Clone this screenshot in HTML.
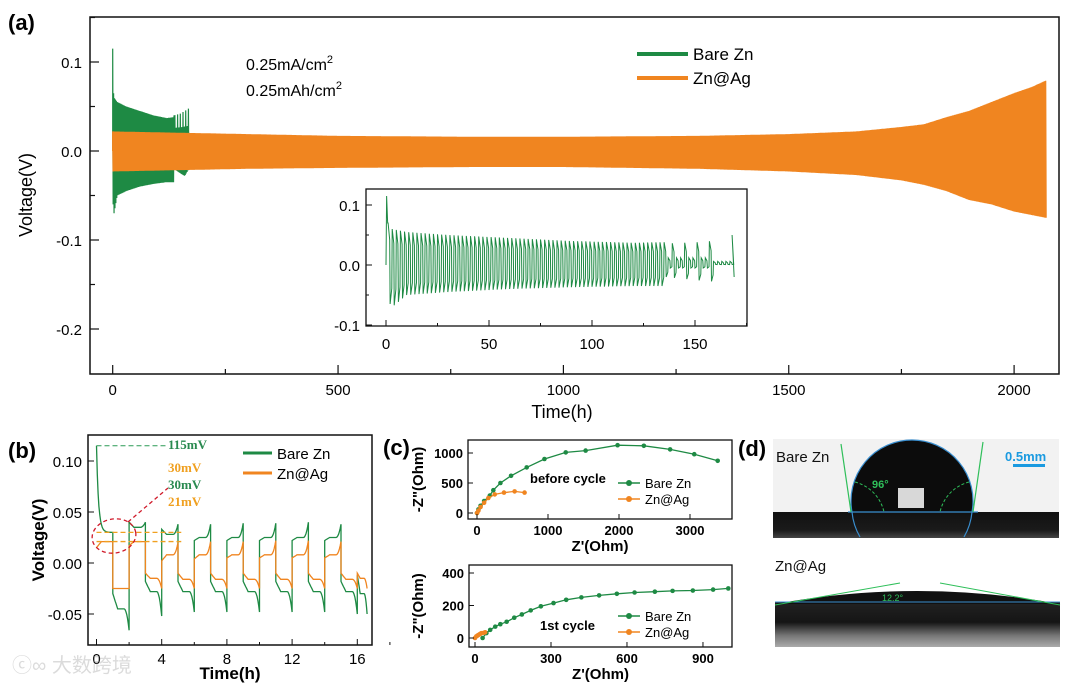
<!DOCTYPE html>
<html><head><meta charset="utf-8"><style>
body{margin:0;background:#fff;width:1080px;height:683px;overflow:hidden}
svg{display:block;font-family:"Liberation Sans",Arial,sans-serif}
</style></head><body>
<svg id="fig" width="1080" height="683" viewBox="0 0 1080 683">
<defs>
<linearGradient id="gBand" x1="0" y1="0" x2="0" y2="1"><stop offset="0" stop-color="#111"/><stop offset="0.7" stop-color="#1a1a1a"/><stop offset="1" stop-color="#444"/></linearGradient>
<linearGradient id="gBand2" x1="0" y1="0" x2="0" y2="1"><stop offset="0" stop-color="#222"/><stop offset="0.45" stop-color="#151515"/><stop offset="0.75" stop-color="#777"/><stop offset="1" stop-color="#aaa"/></linearGradient>
</defs>
<g id="A"></g>
<g id="B"></g>
<g id="C"></g>
<g id="D">
  <text x="738" y="456" font-size="22" font-weight="bold">(d)</text>
  <rect x="773" y="439" width="286" height="99" fill="#f2f2f2"/>
  <rect x="773" y="512" width="286" height="26" fill="url(#gBand)"/>
  <path d="M852,512 A61,61 0 1 1 972,512 Z" fill="#0c0c0c"/>
  <rect x="898" y="488" width="26" height="20" fill="#eee" opacity="0.9"/>
  <path d="M852,512 A61,61 0 1 1 972,512 M852,512 A61,61 0 0 0 860,537 M972,512 A61,61 0 0 1 964,537" fill="none" stroke="#3a8fd0" stroke-width="1.2"/>
  <line x1="848" y1="512" x2="978" y2="512" stroke="#3a8fd0" stroke-width="1.2"/>
  <line x1="841" y1="444" x2="851" y2="512" stroke="#2fbf5a" stroke-width="1.2"/>
  <line x1="983" y1="442" x2="973" y2="512" stroke="#2fbf5a" stroke-width="1.2"/>
  <path d="M855,482 A40,40 0 0 1 884,512 M969,482 A40,40 0 0 0 940,512" fill="none" stroke="#2fbf5a" stroke-dasharray="3,2"/>
  <text x="872" y="488" font-size="11" fill="#2fbf5a" font-weight="bold">96°</text>
  <text x="1005" y="461" font-size="13" fill="#1a9ae0" font-weight="bold">0.5mm</text>
  <rect x="1013" y="464" width="32" height="3" fill="#1a9ae0"/>
  <text x="776" y="462" font-size="15" fill="#111">Bare Zn</text>
  <text x="775" y="571" font-size="15" fill="#111">Zn@Ag</text>
  <rect x="775" y="602" width="285" height="45" fill="url(#gBand2)"/>
  <path d="M775,604 Q917,578 1060,604 Z" fill="#111"/>
  <line x1="775" y1="602" x2="1060" y2="602" stroke="#3a8fd0" stroke-width="1"/>
  <line x1="775" y1="605" x2="900" y2="583" stroke="#2fbf5a" stroke-width="1"/>
  <line x1="940" y1="583" x2="1060" y2="605" stroke="#2fbf5a" stroke-width="1"/>
  <text x="882" y="601" font-size="9" fill="#2fbf5a">12.2°</text>
</g>
<g opacity="0.35"><text x="12" y="672" font-size="20" fill="#999" font-family="'Liberation Sans','Noto Sans CJK SC',sans-serif">ⓒ∞ 大数跨境</text></g>
</svg>
<script>
const NS='http://www.w3.org/2000/svg';
function el(p,t,a){const e=document.createElementNS(NS,t);for(const k in a)e.setAttribute(k,a[k]);p.appendChild(e);return e;}
function txt(p,x,y,s,a){const e=el(p,'text',Object.assign({x:x,y:y},a));e.textContent=s;return e;}
function interp(xs,ys,x){if(x<=xs[0])return ys[0];for(let i=1;i<xs.length;i++){if(x<=xs[i]){const f=(x-xs[i-1])/(xs[i]-xs[i-1]);return ys[i-1]+f*(ys[i]-ys[i-1]);}}return ys[ys.length-1];}

// ===== Panel A data =====
const aXTicks=[0,500,1000,1500,2000];
const aYTicks=[0.1,0.0,-0.1,-0.2];
const aYLabels=['0.1','0.0','-0.1','-0.2'];
const orangeEnvT=[0,100,300,500,800,1000,1300,1500,1650,1750,1800,1850,1900,1950,2000,2040,2070];
const orangeUpper=[0.022,0.021,0.019,0.017,0.016,0.016,0.017,0.019,0.022,0.027,0.030,0.038,0.045,0.055,0.065,0.072,0.079];
const orangeLower=[-0.023,-0.022,-0.02,-0.019,-0.018,-0.018,-0.02,-0.023,-0.027,-0.033,-0.038,-0.045,-0.055,-0.06,-0.068,-0.072,-0.075];
const greenEnvT=[0,1,3,10,30,60,90,120,135,136,150,160,169];
const greenUpper=[0.115,0.07,0.06,0.055,0.05,0.045,0.04,0.037,0.038,0.04,0.042,0.045,0.048];
const greenLower=[-0.005,-0.06,-0.07,-0.05,-0.045,-0.04,-0.037,-0.035,-0.035,-0.02,-0.025,-0.028,-0.02];
const period=2;

(function(){
 const g=document.getElementById('A');
 const L=90,T=17,R=1059,B=374;
 const x=t=>112.7+t*0.4507, y=v=>151-v*890;
 txt(g,8,30,'(a)',{'font-size':22,'font-weight':'bold'});
 let d='M'+x(0)+','+y(0);
 for(let t=0;t<=2070;t+=period){d+='L'+x(t).toFixed(2)+','+y(interp(orangeEnvT,orangeUpper,t)).toFixed(1)+'L'+x(t+period/2).toFixed(2)+','+y(interp(orangeEnvT,orangeLower,t+period/2)).toFixed(1);}
 let dg='M'+x(0)+','+y(0);
 for(let t=0;t<=169;t+=period){const u=t>136?0.02+(interp(greenEnvT,greenUpper,t)-0.02)*((t%6)<2?1:0.3):interp(greenEnvT,greenUpper,t);
  dg+='L'+x(t).toFixed(2)+','+y(u).toFixed(1)+'L'+x(t+1).toFixed(2)+','+y(interp(greenEnvT,greenLower,t+1)).toFixed(1);}
 const gp=el(g,'path',{d:dg,fill:'none',stroke:'#1e8a44','stroke-width':1.2});
 
 
 const op=el(g,'path',{d:d,fill:'none',stroke:'#f08520','stroke-width':1.3});
 
 
 const fr=el(g,'rect',{x:L,y:T,width:R-L,height:B-T,fill:'none',stroke:'#111','stroke-width':1.5});
 
 
 aXTicks.forEach(v=>{el(g,'line',{x1:x(v),y1:B,x2:x(v),y2:B-9,stroke:'#111','stroke-width':1.2});el(g,'line',{x1:x(v+250),y1:B,x2:x(v+250),y2:B-5,stroke:'#111','stroke-width':1.2});
  const t=txt(g,x(v),395,String(v),{'font-size':15,'text-anchor':'middle'});});
 aYTicks.forEach((v,i)=>{el(g,'line',{x1:L,y1:y(v),x2:L+9,y2:y(v),stroke:'#111','stroke-width':1.2});el(g,'line',{x1:L,y1:y(v+0.05),x2:L+5,y2:y(v+0.05),stroke:'#111','stroke-width':1.2});
  const t=txt(g,L-8,y(v)+6,aYLabels[i],{'font-size':15,'text-anchor':'end'});});
 let t=txt(g,562,418,'Time(h)',{'font-size':18,'text-anchor':'middle'});
 t=txt(g,32,195,'Voltage(V)',{'font-size':18,'text-anchor':'middle',transform:'rotate(-90 32 195)'});
 t=el(g,'text',{x:246,y:70,'font-size':16});t.innerHTML='0.25mA/cm<tspan font-size="11" dy="-7">2</tspan>';
 t=el(g,'text',{x:246,y:96,'font-size':16});t.innerHTML='0.25mAh/cm<tspan font-size="11" dy="-7">2</tspan>';
 el(g,'line',{x1:637,y1:54,x2:688,y2:54,stroke:'#1e8a44','stroke-width':4});
 t=txt(g,693,60,'Bare Zn',{'font-size':17});
 el(g,'line',{x1:637,y1:78,x2:688,y2:78,stroke:'#f08520','stroke-width':4});
 t=txt(g,693,84,'Zn@Ag',{'font-size':17});
 const iL=366,iT=189,iR=747,iB=326;
 const ix=t=>386+t*2.06, iy=v=>265-v*600;
 el(g,'rect',{x:iL,y:iT,width:iR-iL,height:iB-iT,fill:'#fff',stroke:'#111','stroke-width':1.3});
 let di='M'+ix(0)+','+iy(0)+'L'+ix(0.3)+','+iy(0.115)+'L'+ix(0.8)+','+iy(0.07);
 for(let t=1;t<=167;t+=period){let u=interp(greenEnvT,greenUpper,t),lo=interp(greenEnvT,greenLower,t+1);
  if(t>136){const k=(t%6)<3;u=k?u*0.9:0.012;lo=k?lo:-0.005;if(t>158){u=0.006;lo=0.001;}}
  di+='L'+ix(t).toFixed(1)+','+iy(u).toFixed(1)+'L'+ix(t+0.8).toFixed(1)+','+iy(u*0.6).toFixed(1)+'L'+ix(t+1).toFixed(1)+','+iy(lo).toFixed(1)+'L'+ix(t+1.8).toFixed(1)+','+iy(lo*0.6).toFixed(1);}
 di+='L'+ix(168)+','+iy(0.05)+'L'+ix(169)+','+iy(-0.02);
 const ip=el(g,'path',{d:di,fill:'none',stroke:'#1e8a44','stroke-width':1});
 
 
 [0,50,100,150].forEach(v=>{el(g,'line',{x1:ix(v),y1:iB,x2:ix(v),y2:iB-6,stroke:'#111'});el(g,'line',{x1:ix(v+25),y1:iB,x2:ix(v+25),y2:iB-3,stroke:'#111'});txt(g,ix(v),349,String(v),{'font-size':15,'text-anchor':'middle'});});
 [[0.1,'0.1'],[0,'0.0'],[-0.1,'-0.1']].forEach(a=>{el(g,'line',{x1:iL,y1:iy(a[0]),x2:iL+6,y2:iy(a[0]),stroke:'#111'});txt(g,iL-6,iy(a[0])+6,a[1],{'font-size':15,'text-anchor':'end'});});
 [0.05,-0.05].forEach(v=>el(g,'line',{x1:iL,y1:iy(v),x2:iL+3,y2:iy(v),stroke:'#111'}));
})();

// ===== Panel B data =====
const bHalfStart=[0,1,2,3,4,5,6,7,8,9,10,11,12,13,14,15,16];
const bGreenBegin=[0.115,-0.03,0.04,-0.018,0.033,-0.018,0.022,-0.018,0.022,-0.018,0.022,-0.018,0.022,-0.018,0.022,-0.018,-0.012];
const bGreenMid=[0.03,-0.045,0.035,-0.028,0.028,-0.028,0.025,-0.028,0.025,-0.028,0.025,-0.028,0.025,-0.028,0.025,-0.028,-0.03];
const bGreenEnd=[0.03,-0.066,0.04,-0.052,0.038,-0.048,0.038,-0.048,0.039,-0.048,0.039,-0.048,0.04,-0.048,0.038,-0.05,-0.05];
const bOrangeBegin=[0.015,-0.025,0.017,-0.01,0.002,-0.01,0.004,-0.01,0.005,-0.01,0.005,-0.01,0.005,-0.01,0.005,-0.01,-0.01];
const bOrangeMid=[0.021,-0.025,0.021,-0.015,0.008,-0.016,0.008,-0.016,0.008,-0.016,0.008,-0.016,0.008,-0.016,0.008,-0.016,-0.015];
const bOrangeEnd=[0.021,-0.025,0.021,-0.025,0.02,-0.025,0.021,-0.025,0.021,-0.025,0.022,-0.025,0.022,-0.025,0.021,-0.025,-0.025];
(function(){
 const g=document.getElementById('B');
 const L=88,T=435,R=372,B=645;
 const x=t=>96.5+t*16.3, y=v=>563-v*1020;
 txt(g,8,458,'(b)',{'font-size':22,'font-weight':'bold'});
 function series(bg,md,en,col,name,first){
  let d='';
  bHalfStart.forEach((t0,i)=>{const len=i===16?0.6:1;
   for(let k=0;k<=20;k++){const s=k/20,t=t0+s*len;let v;
    if(i===0&&first){v=md[i]+(bg[i]-md[i])*Math.exp(-s*8);}
    else{v=s<0.7?bg[i]+(md[i]-bg[i])*Math.min(1,s/0.3):md[i]+(en[i]-md[i])*Math.pow((s-0.7)/0.3,2);}
    d+=(d?'L':'M')+x(t).toFixed(1)+','+y(v).toFixed(1);}
  });
  const p=el(g,'path',{d:d,fill:'none',stroke:col,'stroke-width':1.3});
  
  
 }
 series(bGreenBegin,bGreenMid,bGreenEnd,'#1e8a44','b-bare-zn-series',true);
 series(bOrangeBegin,bOrangeMid,bOrangeEnd,'#f08520','b-zn-ag-series',false);
 const fr=el(g,'rect',{x:L,y:T,width:R-L,height:B-T,fill:'none',stroke:'#111','stroke-width':1.5});
 
 
 [0,4,8,12,16].forEach(v=>{el(g,'line',{x1:x(v),y1:B,x2:x(v),y2:B-6,stroke:'#111'});el(g,'line',{x1:x(v+2),y1:B,x2:x(v+2),y2:B-3,stroke:'#111'});txt(g,x(v),664,String(v),{'font-size':15,'text-anchor':'middle'});});
 [[0.1,'0.10'],[0.05,'0.05'],[0,'0.00'],[-0.05,'-0.05']].forEach(a=>{el(g,'line',{x1:L,y1:y(a[0]),x2:L+6,y2:y(a[0]),stroke:'#111'});txt(g,L-6,y(a[0])+6,a[1],{'font-size':15,'text-anchor':'end'});});
 let t=txt(g,230,679,'Time(h)',{'font-size':17,'font-weight':'bold','text-anchor':'middle'});
 t=txt(g,44,540,'Voltage(V)',{'font-size':17,'font-weight':'bold','text-anchor':'middle',transform:'rotate(-90 44 540)'});
 el(g,'line',{x1:x(0),y1:y(0.115),x2:x(4.3),y2:y(0.115),stroke:'#2a9a55','stroke-dasharray':'5,3'});
 el(g,'line',{x1:x(0),y1:y(0.03),x2:x(5.2),y2:y(0.03),stroke:'#f0a020','stroke-dasharray':'5,3','stroke-width':1.3});
 el(g,'line',{x1:x(0),y1:y(0.021),x2:x(5.2),y2:y(0.021),stroke:'#f0a020','stroke-dasharray':'5,3','stroke-width':1.3});
 el(g,'ellipse',{cx:114,cy:536,rx:22,ry:17,fill:'none',stroke:'#d01a2a','stroke-dasharray':'4,3','stroke-width':1.3,transform:'rotate(-10 114 536)'});
 el(g,'line',{x1:128,y1:522,x2:168,y2:488,stroke:'#d01a2a','stroke-dasharray':'4,3','stroke-width':1.3});
 const lab=[[168,449,'115mV','#2a8a50'],[168,472,'30mV','#f0a020'],[168,489,'30mV','#2a8a50'],[168,506,'21mV','#f0a020']];
 lab.forEach(a=>{const e=txt(g,a[0],a[1],a[2],{'font-size':13,'font-weight':'bold',fill:a[3],'font-family':'Liberation Serif,serif'});});
 el(g,'line',{x1:243,y1:453,x2:272,y2:453,stroke:'#1e8a44','stroke-width':3});
 txt(g,277,459,'Bare Zn',{'font-size':15});
 el(g,'line',{x1:243,y1:473,x2:272,y2:473,stroke:'#f08520','stroke-width':3});
 txt(g,277,479,'Zn@Ag',{'font-size':15});
})();

// ===== Panel C data =====
const c1BareX=[0,20,50,100,180,230,330,480,700,950,1250,1530,1980,2350,2720,3060,3390];
const c1BareY=[0,60,120,200,290,380,500,620,760,900,1010,1040,1130,1120,1060,980,870];
const c1AgX=[0,20,50,100,160,250,380,530,670];
const c1AgY=[0,40,100,170,250,310,340,360,340];
const c2BareX=[30,45,60,80,100,125,155,185,220,260,310,360,420,490,560,630,710,780,860,940,1000];
const c2BareY=[0,30,50,70,85,100,125,145,170,195,215,235,250,262,272,280,285,290,292,298,305];
const c2AgX=[0,5,10,15,20,25,35,40];
const c2AgY=[0,10,15,20,25,30,32,35];
(function(){
 const g=document.getElementById('C');
 txt(g,383,455,'(c)',{'font-size':22,'font-weight':'bold'});
 function plot(L,T,R,B,x,y,sets,xt,yt,note,noteX,noteY,legY,pre){
  sets.forEach(s=>{
   let d='';s.xs.forEach((v,i)=>{d+=(i?'L':'M')+x(v).toFixed(1)+','+y(s.ys[i]).toFixed(1);});
   const p=el(g,'path',{d:d,fill:'none',stroke:s.c,'stroke-width':1.3});
   
   
   s.xs.forEach((v,i)=>{if(x(v)<=R){const c=el(g,'circle',{cx:x(v),cy:y(s.ys[i]),r:2.3,fill:s.c});}});
  });
  el(g,'rect',{x:L,y:T,width:R-L,height:B-T,fill:'none',stroke:'#111','stroke-width':1.3});
  xt.forEach(v=>{el(g,'line',{x1:x(v),y1:B,x2:x(v),y2:B-5,stroke:'#111'});txt(g,x(v),B+16,String(v),{'font-size':13,'font-weight':'bold','text-anchor':'middle'});});
  yt.forEach(v=>{el(g,'line',{x1:L,y1:y(v),x2:L+5,y2:y(v),stroke:'#111'});txt(g,L-5,y(v)+5,String(v),{'font-size':13,'font-weight':'bold','text-anchor':'end'});});
  txt(g,(L+R)/2,B+32,"Z'(Ohm)",{'font-size':15,'font-weight':'bold','text-anchor':'middle'});
  txt(g,423,(T+B)/2,'-Z"(Ohm)',{'font-size':15,'font-weight':'bold','text-anchor':'middle',transform:'rotate(-90 423 '+((T+B)/2)+')'});
  txt(g,noteX,noteY,note,{'font-size':13,'font-weight':'bold'});
  [['Bare Zn','#1e8a44'],['Zn@Ag','#f08520']].forEach((a,i)=>{const yy=legY+i*16;el(g,'line',{x1:618,y1:yy,x2:640,y2:yy,stroke:a[1],'stroke-width':1.5});el(g,'circle',{cx:629,cy:yy,r:3,fill:a[1]});txt(g,645,yy+5,a[0],{'font-size':13});});
 }
 plot(468,440,732,519,v=>477+v*0.071,v=>513-v*0.06,
  [{xs:c1BareX,ys:c1BareY,c:'#1e8a44',n:'bare-zn-eis'},{xs:c1AgX,ys:c1AgY,c:'#f08520',n:'zn-ag-eis'}],[0,1000,2000,3000],[0,500,1000],'before cycle',530,483,483,'before-');
 plot(469,565,732,647,v=>475+v*0.2533,v=>638-v*0.1625,
  [{xs:c2BareX,ys:c2BareY,c:'#1e8a44',n:'bare-zn-eis'},{xs:c2AgX,ys:c2AgY,c:'#f08520',n:'zn-ag-eis'}],[0,300,600,900],[0,200,400],'1st cycle',540,630,616,'cycle1-');
})();
</script>
</body></html>
